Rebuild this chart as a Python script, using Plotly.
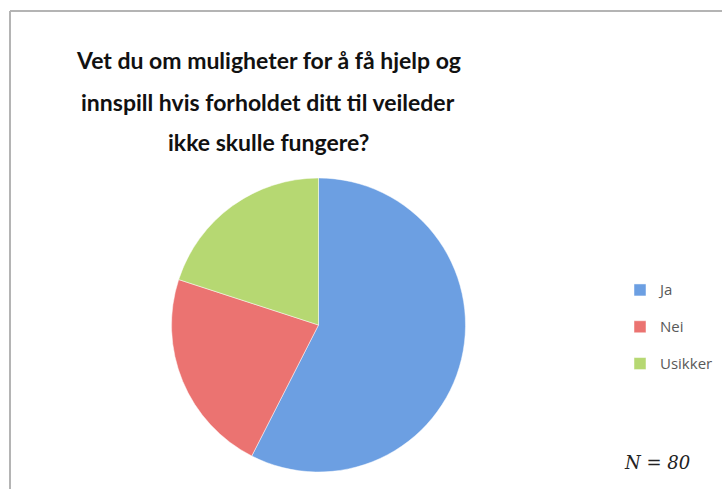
import plotly.graph_objects as go

labels = ["Ja", "Nei", "Usikker"]
values = [46, 18, 16]
colors = ["#6c9fe2", "#eb7371", "#b6d872"]
title_lines = [
    "Vet du om muligheter for å få hjelp og",
    "innspill hvis forholdet ditt til veileder",
    "ikke skulle fungere?",
]
note = "N = 80"

W, H = 722, 489

fig = go.Figure(go.Pie(
    labels=['<span style="font-size:15px">' + l + "</span><br> " for l in labels],
    values=values,
    sort=False,
    direction="clockwise",
    rotation=0,
    textinfo="none",
    marker=dict(colors=colors, line=dict(color="rgba(255,255,255,0.6)", width=0.8)),
    domain=dict(x=[171.5 / W, 465.5 / W], y=[17 / H, 311 / H]),
    hovertemplate="%{value}<extra></extra>",
))

annotations = []
line_y = [60, 102, 142]
for t, yp in zip(title_lines, line_y):
    annotations.append(dict(
        text=t, x=268 / W, y=1 - yp / H, xref="paper", yref="paper",
        xanchor="center", yanchor="middle", showarrow=False,
        font=dict(family="Lato", size=23, color="#111111", weight="bold"),
    ))
annotations.append(dict(
    text=note, x=657 / W, y=1 - 462 / H, xref="paper", yref="paper",
    xanchor="center", yanchor="middle", showarrow=False,
    font=dict(family="DejaVu Serif", size=18, color="#222222", style="italic"),
))

fig.update_layout(
    width=W, height=H,
    margin=dict(l=0, r=0, t=0, b=0),
    paper_bgcolor="white",
    plot_bgcolor="white",
    showlegend=True,
    legend=dict(
        x=620 / W, xanchor="left", y=1 - 275 / H, yanchor="top",
        valign="top",
        font=dict(family="Open Sans", size=13, color="#595959"),
        bgcolor="rgba(0,0,0,0)",
    ),
    annotations=annotations,
    shapes=[
        dict(type="line", xref="paper", yref="paper", x0=10 / W, x1=1, y0=1 - 11 / H, y1=1 - 11 / H,
             line=dict(color="#b4b4b4", width=2)),
        dict(type="line", xref="paper", yref="paper", x0=10 / W, x1=10 / W, y0=1 - 11 / H, y1=0,
             line=dict(color="#b4b4b4", width=2)),
    ],
)

fig.write_html("out.html", config={"displayModeBar": False},
               post_script="document.body.style.margin='0';")
